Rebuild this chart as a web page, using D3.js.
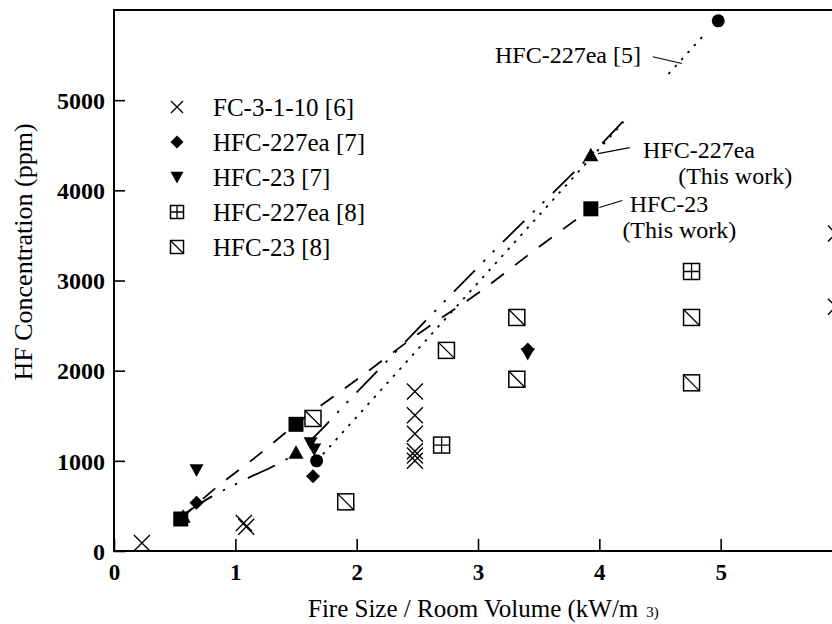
<!DOCTYPE html>
<html>
  <head>
    <meta charset="utf-8">
    <style>
      body { margin: 0; background: #fff; }
      svg { display: block; }
      text { font-family: "Liberation Serif", "Times New Roman", serif; fill: #000; }
    </style>
  </head>
  <body>
    <div id="chart"></div>
    <script src="https://cdn.jsdelivr.net/npm/d3@7"></script>
    <script>
      // axis ticks
      const xTicks = [0, 1, 2, 3, 4, 5];
      const yTicks = [0, 1000, 2000, 3000, 4000, 5000];

      // data, [fire size / room volume, HF ppm]
      const fc3110 = [[0.23, 90], [1.07, 310], [1.09, 270], [2.48, 1770], [2.48, 1505], [2.48, 1300],
                      [2.48, 1105], [2.48, 1060], [2.48, 1000], [5.95, 3520], [5.95, 2710]];
      const hfc227ea7 = [[0.68, 535], [1.64, 830], [3.41, 2235]];
      const hfc23_7 = [[0.68, 900], [1.62, 1200], [1.65, 1130], [3.41, 2190]];
      const hfc227ea8 = [[2.70, 1175], [4.76, 3100]];
      const hfc23_8 = [[1.64, 1470], [1.91, 545], [2.74, 2225], [3.32, 2590], [3.32, 1905], [4.76, 2590], [4.76, 1865]];
      const hfc227ea5 = [[1.67, 1000], [4.98, 5880]];
      const hfc227eaThis = [[0.57, 380], [1.50, 1090], [3.93, 4390]];
      const hfc23This = [[0.55, 355], [1.50, 1405], [3.93, 3795]];

      // fitted lines
      const lineHfc23 = [[0.55, 355], [0.8, 656], [1.17, 1044], [1.5, 1405], [2.0, 1900], [2.5, 2400],
                         [3.03, 2890], [3.5, 3370], [3.93, 3795]];
      const lineHfc227ea = [[0.6, 430], [0.8, 600], [1.07, 786], [1.5, 1090], [2.0, 1760], [2.52, 2486],
                            [3.2, 3420], [3.93, 4390], [4.22, 4800]];
      const lineRef5a = [[1.67, 996], [4.2, 4760]];
      const lineRef5b = [[4.57, 5290], [4.86, 5720]];

      const legendNames = ["FC-3-1-10 [6]", "HFC-227ea [7]", "HFC-23 [7]", "HFC-227ea [8]", "HFC-23 [8]"];
      const legendShapes = ["cross", "diamond", "tridown", "boxplus", "boxdiag"];

      const width = 832, height = 624;
      const svg = d3.select("#chart").append("svg").attr("width", width).attr("height", height);

      const x = d3.scaleLinear().domain([0, 6]).range([114, 842]);
      const y = d3.scaleLinear().domain([0, 6000]).range([551, 10]);

      // axes with inward ticks
      const gy = svg.append("g").attr("transform", "translate(114,0)")
        .call(d3.axisLeft(y).tickValues(yTicks).tickSize(-11).tickPadding(9).tickFormat(d3.format("d")));
      gy.select(".domain").remove();
      gy.selectAll("line").attr("stroke", "#000").attr("stroke-width", 1.6);
      gy.selectAll("text").style("font-size", "24px").style("font-weight", "bold").attr("dy", "0.34em");

      const gx = svg.append("g").attr("transform", "translate(0,551)")
        .call(d3.axisBottom(x).tickValues(xTicks).tickSize(-12).tickPadding(13).tickFormat(d3.format("d")));
      gx.select(".domain").remove();
      gx.selectAll("line").attr("stroke", "#000").attr("stroke-width", 1.6);
      gx.selectAll("text").style("font-size", "23px").style("font-weight", "bold");

      // frame
      svg.append("path")
        .attr("d", `M${x(6)},${y(6000)}H${x(0)}V${y(0)}H${x(6)}`)
        .attr("fill", "none").attr("stroke", "#000").attr("stroke-width", 2);

      // axis titles
      svg.append("text").attr("transform", "translate(32,252) rotate(-90)")
        .attr("text-anchor", "middle").style("font-size", "26px").text("HF Concentration (ppm)");
      const xt = svg.append("text").attr("x", 308).attr("y", 617).style("font-size", "25px");
      xt.append("tspan").text("Fire Size / Room Volume (kW/m");
      xt.append("tspan").attr("dx", 8).style("font-size", "15px").text("3)");

      // lines
      const line = d3.line().x(d => x(d[0])).y(d => y(d[1]));
      const lg = svg.append("g").attr("fill", "none").attr("stroke", "#000").attr("stroke-width", 1.8);
      lg.append("path").attr("d", line.curve(d3.curveMonotoneX)(lineHfc23)).attr("stroke-dasharray", "16,14");
      lg.append("path").attr("d", line.curve(d3.curveMonotoneX)(lineHfc227ea)).attr("stroke-dasharray", "30,12,2.5,11,2.5,12");
      lg.append("path").attr("d", line.curve(d3.curveLinear)(lineRef5a)).attr("stroke-dasharray", "2.5,7");
      lg.append("path").attr("d", line.curve(d3.curveLinear)(lineRef5b)).attr("stroke-dasharray", "2.5,7");

      // marker shapes
      function drawShape(g, shape, cx, cy, s) {
        const m = g.append("g").attr("transform", `translate(${cx},${cy})`);
        if (shape === "cross") {
          m.append("path").attr("d", `M${-s},${-s}L${s},${s}M${-s},${s}L${s},${-s}`)
            .attr("stroke", "#000").attr("stroke-width", 1.4).attr("fill", "none");
        } else if (shape === "diamond") {
          m.append("path").attr("d", `M0,${-s}L${s},0L0,${s}L${-s},0Z`).attr("fill", "#000");
        } else if (shape === "tridown") {
          m.append("path").attr("d", `M${-s},${-s * 0.8}L${s},${-s * 0.8}L0,${s}Z`).attr("fill", "#000");
        } else if (shape === "triup") {
          m.append("path").attr("d", `M${-s},${s * 0.8}L${s},${s * 0.8}L0,${-s}Z`).attr("fill", "#000");
        } else if (shape === "square") {
          m.append("rect").attr("x", -s).attr("y", -s).attr("width", 2 * s).attr("height", 2 * s).attr("fill", "#000");
        } else if (shape === "circle") {
          m.append("circle").attr("r", s).attr("fill", "#000");
        } else if (shape === "boxplus" || shape === "boxdiag") {
          m.append("rect").attr("x", -s).attr("y", -s).attr("width", 2 * s).attr("height", 2 * s)
            .attr("fill", "#fff").attr("stroke", "#000").attr("stroke-width", 1.5);
          const d = shape === "boxplus" ? `M${-s},0H${s}M0,${-s}V${s}` : `M${-s},${-s}L${s},${s}`;
          m.append("path").attr("d", d).attr("stroke", "#000").attr("stroke-width", 1.3);
        }
      }

      const pts = svg.append("g");
      const series = [
        [hfc23_8, "boxdiag", 8], [hfc227ea8, "boxplus", 8], [fc3110, "cross", 8],
        [hfc227eaThis, "triup", 7.5], [hfc23_7, "tridown", 7], [hfc227ea7, "diamond", 7],
        [hfc227ea5, "circle", 6.5], [hfc23This, "square", 7.5]
      ];
      series.forEach(([data, shape, s]) => {
        data.forEach(d => drawShape(pts, shape, x(d[0]), y(d[1]), s));
      });

      // legend
      const leg = svg.append("g");
      legendNames.forEach((name, i) => {
        const cy = 107 + i * 35;
        drawShape(leg, legendShapes[i], 177, cy, legendShapes[i] === "cross" ? 6 : 6.5);
        leg.append("text").attr("x", 213).attr("y", cy + 9).style("font-size", "25px").text(name);
      });

      // annotations
      const notes = [
        { lead: [[4.44, 5482], [4.68, 5407]], text: [["HFC-227ea [5]", 3.14, 5415]] },
        { lead: [[3.99, 4407], [4.25, 4474]], text: [["HFC-227ea", 4.36, 4363], ["(This work)", 4.65, 4065]] },
        { lead: [[4.0, 3809], [4.19, 3887]], text: [["HFC-23", 4.25, 3765], ["(This work)", 4.19, 3466]] }
      ];
      notes.forEach(n => {
        svg.append("path").attr("d", line.curve(d3.curveLinear)(n.lead))
          .attr("stroke", "#000").attr("stroke-width", 1.1).attr("fill", "none");
        n.text.forEach(t => {
          svg.append("text").attr("x", x(t[1])).attr("y", y(t[2])).style("font-size", "24px").text(t[0]);
        });
      });
    </script>
  </body>
</html>
